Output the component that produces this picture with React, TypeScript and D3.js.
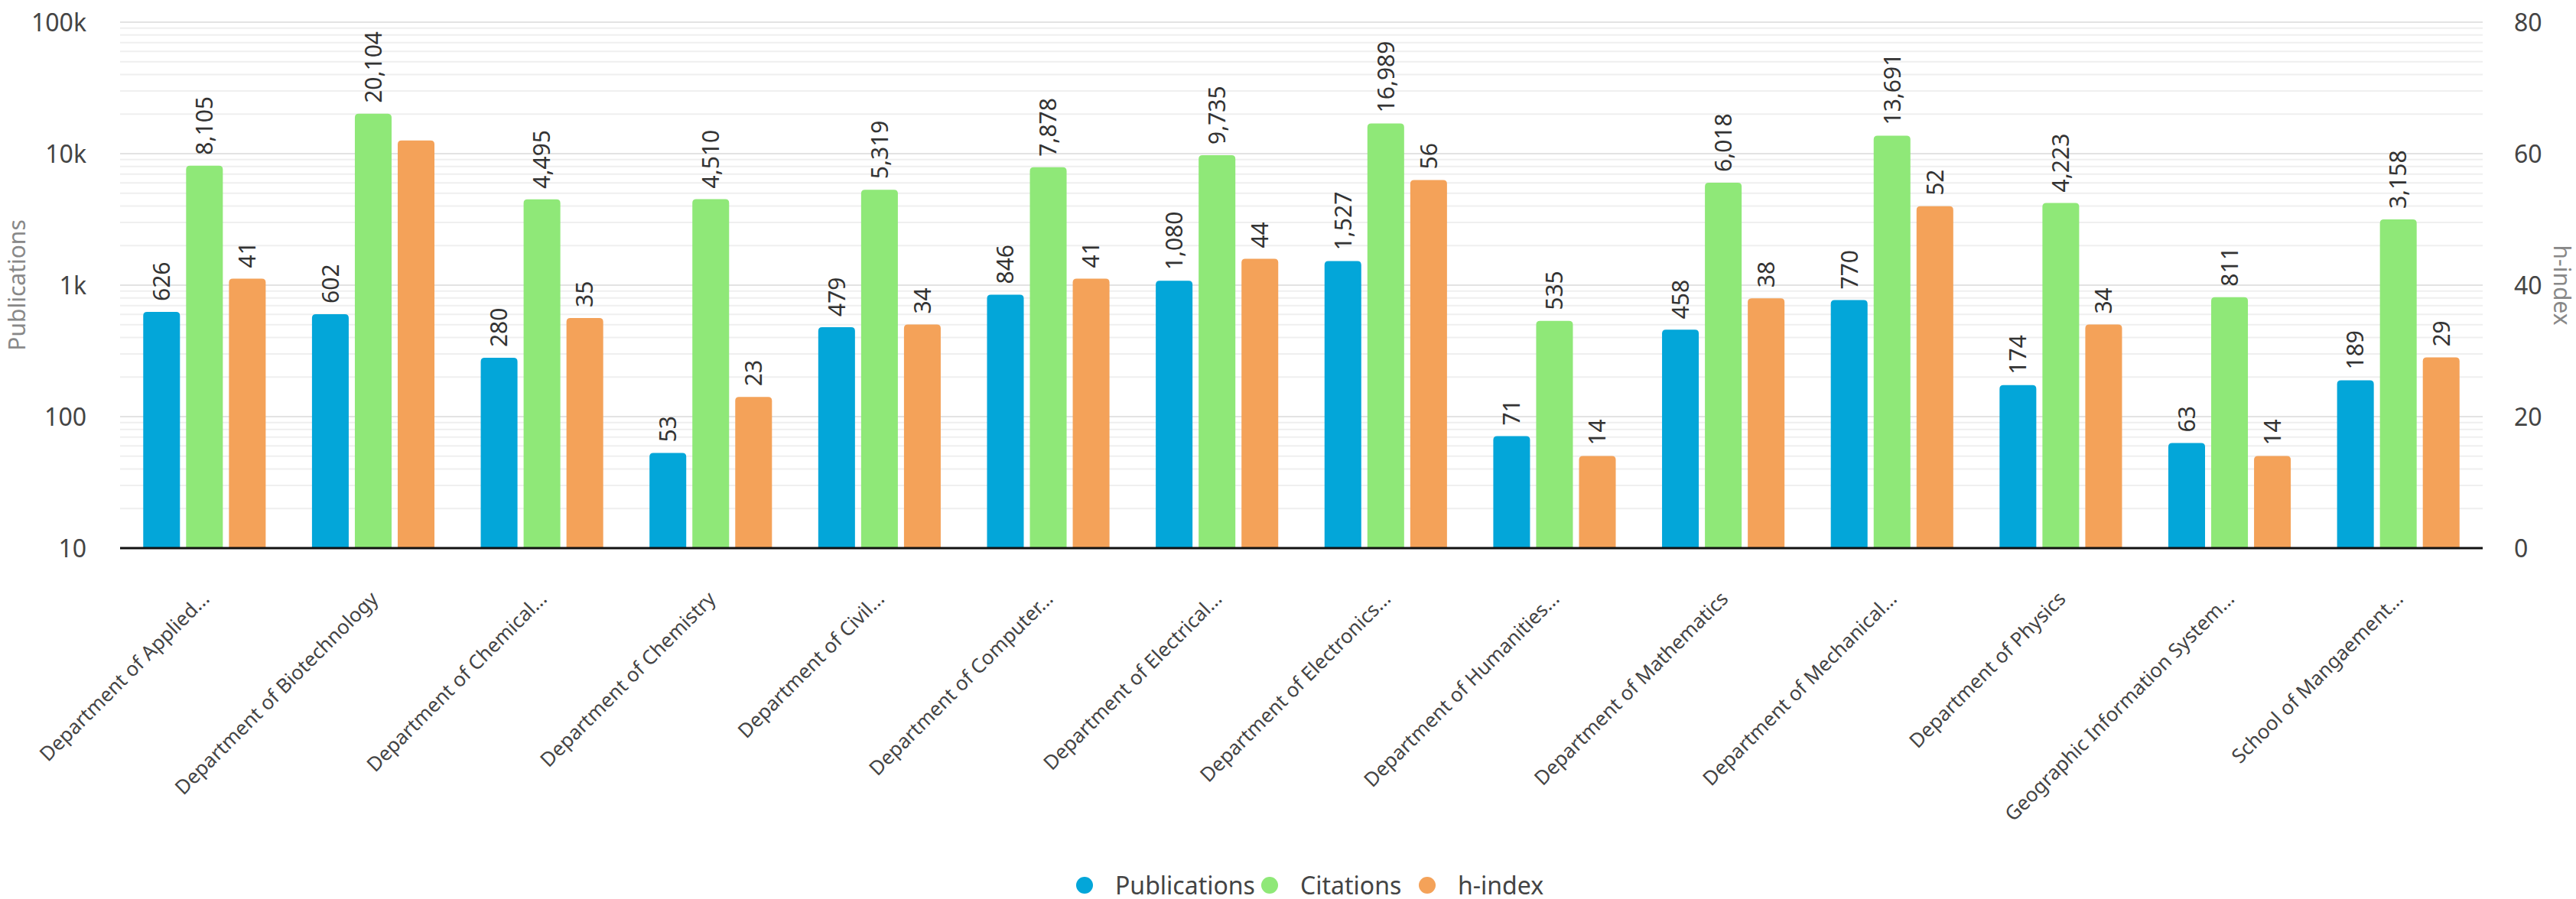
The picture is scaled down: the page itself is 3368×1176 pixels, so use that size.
import { scaleBand, scaleLinear, scaleLog, range } from "d3";

const width = 3368;
const height = 1176;
const plotLeft = 157;
const plotRight = 3246;
const plotTop = 29;
const plotBottom = 717;
const font = "'Noto Sans', 'Open Sans', sans-serif";

const departments = [
  "Department of Applied...",
  "Department of Biotechnology",
  "Department of Chemical...",
  "Department of Chemistry",
  "Department of Civil...",
  "Department of Computer...",
  "Department of Electrical...",
  "Department of Electronics...",
  "Department of Humanities...",
  "Department of Mathematics",
  "Department of Mechanical...",
  "Department of Physics",
  "Geographic Information System...",
  "School of Mangaement...",
];

const publications = [626, 602, 280, 53, 479, 846, 1080, 1527, 71, 458, 770, 174, 63, 189];
const citations = [8105, 20104, 4495, 4510, 5319, 7878, 9735, 16989, 535, 6018, 13691, 4223, 811, 3158];
const hIndex = [41, 62, 35, 23, 34, 41, 44, 56, 14, 38, 52, 34, 14, 29];

const seriesNames = ["Publications", "Citations", "h-index"];
const seriesColors = ["#03a6d9", "#8fe878", "#f4a259"];
// labels the original chart left out (collision)
const hiddenLabels = [{ dept: 1, series: 2 }];

const logTicks = [10, 100, 1000, 10000, 100000];
const logTickLabels = ["10", "100", "1k", "10k", "100k"];
const hTicks = [0, 20, 40, 60, 80];
const legendX = [1418, 1660, 1866];

const fmt = (v: number) => v.toLocaleString("en-US");

export default function App() {
  const x = scaleBand<string>().domain(departments).range([plotLeft, plotRight]);
  const inner = scaleBand<string>()
    .domain(seriesNames)
    .range([0, x.bandwidth()])
    .paddingInner(0.143)
    .paddingOuter(0.54);
  const yLog = scaleLog().domain([10, 100000]).range([plotBottom, plotTop]);
  const yH = scaleLinear().domain([0, 80]).range([plotBottom, plotTop]);

  const minorTicks = logTicks
    .slice(0, -1)
    .flatMap((t) => range(2, 10).map((m) => t * m));

  const values = [publications, citations, hIndex];
  const bw = inner.bandwidth();
  const r = 5;

  const barPath = (x0: number, y0: number, w: number, h: number) => {
    const rr = Math.min(r, h / 2);
    return `M${x0},${y0 + h}V${y0 + rr}Q${x0},${y0} ${x0 + rr},${y0}H${x0 + w - rr}Q${x0 + w},${y0} ${x0 + w},${y0 + rr}V${y0 + h}Z`;
  };

  return (
    <svg
      width={width}
      height={height}
      viewBox={`0 0 ${width} ${height}`}
      style={{ position: "absolute", left: 0, top: 0, background: "#fff" }}
      fontFamily={font}
    >
      {/* gridlines */}
      {minorTicks.map((t) => (
        <line key={`m${t}`} x1={plotLeft} x2={plotRight} y1={yLog(t)} y2={yLog(t)} stroke="#efefef" strokeWidth={2} />
      ))}
      {logTicks.map((t) => (
        <line key={`g${t}`} x1={plotLeft} x2={plotRight} y1={yLog(t)} y2={yLog(t)} stroke="#e3e3e3" strokeWidth={2} />
      ))}

      {/* bars */}
      {departments.map((d, i) => (
        <g key={d}>
          {seriesNames.map((s, si) => {
            const v = values[si][i];
            const yTop = si === 2 ? yH(v) : yLog(v);
            const bx = (x(d) ?? 0) + (inner(s) ?? 0);
            return (
              <path key={s} d={barPath(bx, yTop, bw, plotBottom - yTop)} fill={seriesColors[si]} />
            );
          })}
        </g>
      ))}

      {/* value labels */}
      {departments.map((d, i) =>
        seriesNames.map((s, si) => {
          if (hiddenLabels.some((h) => h.dept === i && h.series === si)) return null;
          const v = values[si][i];
          const yTop = si === 2 ? yH(v) : yLog(v);
          const cx = (x(d) ?? 0) + (inner(s) ?? 0) + bw / 2;
          const ly = yTop - 14;
          return (
            <text
              key={`${d}-${s}`}
              transform={`translate(${cx},${ly}) rotate(-90)`}
              dy="0.36em"
              fontSize={30}
              fill="#333"
            >
              {fmt(v)}
            </text>
          );
        }),
      )}

      {/* baseline */}
      <line x1={plotLeft} x2={plotRight} y1={plotBottom} y2={plotBottom} stroke="#111" strokeWidth={3} />

      {/* left axis */}
      {logTicks.map((t, i) => (
        <text key={`l${t}`} x={113} y={yLog(t)} dy="0.36em" textAnchor="end" fontSize={32} fill="#444">
          {logTickLabels[i]}
        </text>
      ))}
      <text transform={`translate(22,${(plotTop + plotBottom) / 2}) rotate(-90)`} dy="0.36em" textAnchor="middle" fontSize={30} fill="#888">
        Publications
      </text>

      {/* right axis */}
      {hTicks.map((t) => (
        <text key={`r${t}`} x={3287} y={yH(t)} dy="0.36em" textAnchor="start" fontSize={32} fill="#444">
          {t}
        </text>
      ))}
      <text transform={`translate(3350,${(plotTop + plotBottom) / 2}) rotate(90)`} dy="0.36em" textAnchor="middle" fontSize={30} fill="#888">
        h-index
      </text>

      {/* category labels */}
      {departments.map((d) => {
        const cx = (x(d) ?? 0) + x.bandwidth() / 2;
        return (
          <text
            key={`c${d}`}
            transform={`translate(${cx + 8},${plotBottom + 68}) rotate(-45)`}
            textAnchor="end"
            fontSize={26}
            fill="#444"
          >
            {d}
          </text>
        );
      })}

      {/* legend */}
      {seriesNames.map((s, si) => (
        <g key={`lg${s}`} transform={`translate(${legendX[si]},1158)`}>
          <circle r={11} fill={seriesColors[si]} />
          <text x={40} dy="0.36em" fontSize={32} fill="#444">
            {s}
          </text>
        </g>
      ))}
    </svg>
  );
}
